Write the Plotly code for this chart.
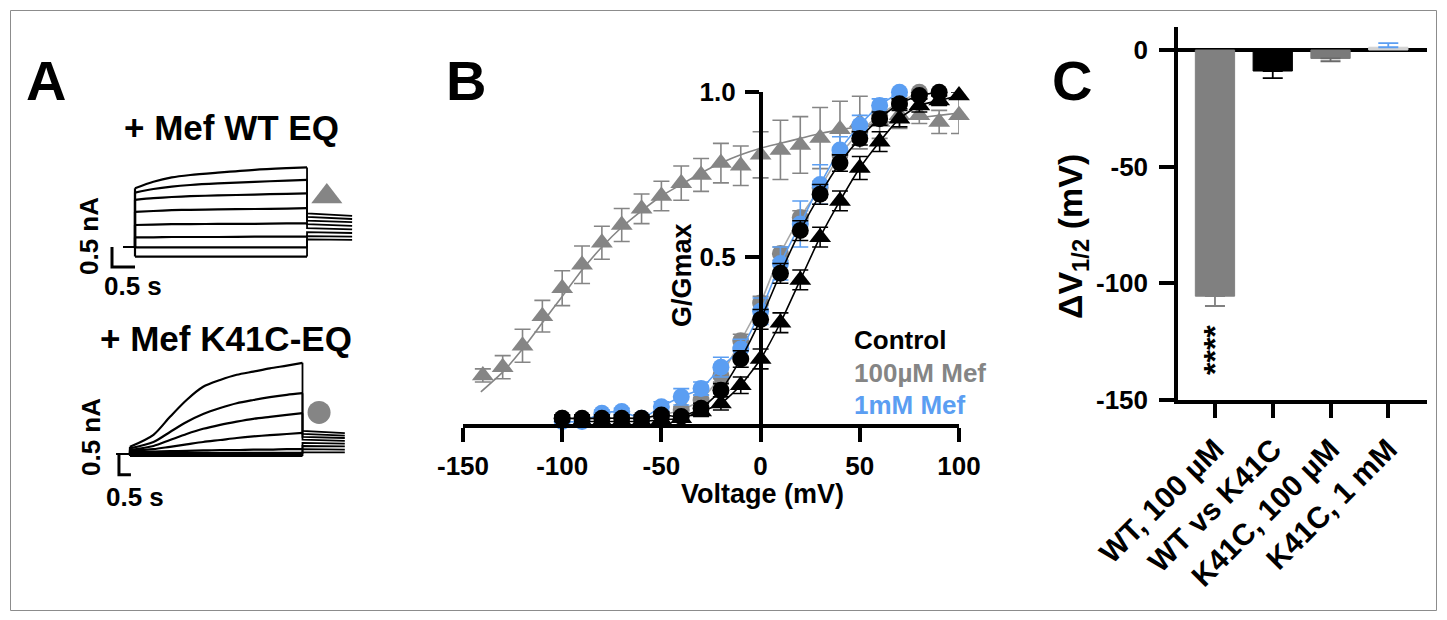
import plotly.graph_objects as go

W, H = 1447, 620
FONT = 'Arial, "Liberation Sans", Helvetica, sans-serif'
BLACK = '#000000'
GRAY = '#858585'
LGRAY = '#a8a8a8'
BLUE = '#5b9ef2'

# ---------------- Panel A data (currents, nA vs time, s) ----------------
wt_hold_t = [-0.26, 0.0]
wt_step_t = [0.0, 0.4, 0.8, 1.2, 1.8, 2.6, 3.3, 3.74]
wt_step_i = [
    [1.47, 1.63, 1.74, 1.80, 1.86, 1.93, 1.97, 1.99],
    [1.36, 1.45, 1.51, 1.55, 1.59, 1.63, 1.66, 1.68],
    [1.18, 1.22, 1.25, 1.27, 1.29, 1.31, 1.33, 1.34],
    [0.88, 0.90, 0.92, 0.93, 0.94, 0.95, 0.96, 0.97],
    [0.55, 0.56, 0.57, 0.57, 0.58, 0.58, 0.59, 0.59],
    [0.24, 0.24, 0.25, 0.25, 0.25, 0.26, 0.26, 0.26],
    [-0.01, -0.01, -0.01, -0.01, -0.01, -0.01, -0.01, -0.01],
    [-0.24, -0.24, -0.24, -0.24, -0.24, -0.24, -0.24, -0.24],
]
wt_tail_t = [3.74, 4.72]
wt_tail_start = [0.84, 0.75, 0.66, 0.57, 0.47, 0.37, 0.27, 0.19]
wt_tail_end = [0.78, 0.70, 0.62, 0.53, 0.44, 0.35, 0.26, 0.18]
wt_scale_t = [-0.5, -0.5, 0.0]
wt_scale_i = [0.0, -0.5, -0.5]

k_hold_t = [-0.29, 0.0]
k_step_t = [0.0, 0.51, 0.87, 1.23, 1.59, 1.96, 2.32, 2.68, 3.04, 3.41, 3.75]
k_step_i = [
    [0.18, 0.48, 0.93, 1.35, 1.68, 1.85, 1.98, 2.06, 2.14, 2.21, 2.28],
    [0.14, 0.30, 0.55, 0.80, 1.00, 1.15, 1.27, 1.35, 1.42, 1.48, 1.52],
    [0.10, 0.20, 0.35, 0.50, 0.63, 0.73, 0.81, 0.88, 0.93, 0.98, 1.02],
    [0.08, 0.12, 0.18, 0.24, 0.30, 0.35, 0.40, 0.44, 0.47, 0.50, 0.53],
    [0.05, 0.06, 0.07, 0.08, 0.09, 0.10, 0.10, 0.11, 0.11, 0.12, 0.12],
    [0.03, 0.03, 0.03, 0.03, 0.03, 0.03, 0.03, 0.03, 0.03, 0.03, 0.03],
    [0.00, 0.00, 0.00, 0.00, 0.00, 0.00, 0.00, 0.00, 0.00, 0.00, 0.00],
    [-0.05, -0.05, -0.05, -0.05, -0.05, -0.05, -0.05, -0.05, -0.05, -0.05, -0.05],
]
k_tail_t = [3.75, 4.67]
k_tail_start = [0.58, 0.50, 0.43, 0.36, 0.28, 0.20, 0.12, 0.04]
k_tail_end = [0.52, 0.46, 0.40, 0.33, 0.26, 0.19, 0.11, 0.04]
k_scale_t = [-0.24, -0.24, 0.02]
k_scale_i = [-0.02, -0.52, -0.52]

# ---------------- Panel B data (G/Gmax vs voltage, mV) ----------------
v_wt_mef = [-140, -130, -120, -110, -100, -90, -80, -70, -60, -50, -40, -30, -20,
            -10, 0, 10, 20, 30, 40, 50, 60, 70, 80, 90, 100]
g_wt_mef = [0.14, 0.165, 0.23, 0.32, 0.405, 0.476, 0.543, 0.597, 0.646, 0.685, 0.724,
            0.749, 0.785, 0.777, 0.81, 0.825, 0.84, 0.861, 0.888, 0.908, 0.91, 0.93,
            0.93, 0.91, 0.93]
e_wt_mef = [0.02, 0.035, 0.05, 0.048, 0.053, 0.057, 0.05, 0.05, 0.045, 0.045, 0.052,
            0.05, 0.06, 0.06, 0.07, 0.09, 0.086, 0.093, 0.085, 0.08, 0.05, 0.04,
            0.025, 0.035, 0.055]
v_wt_mef_fit = [-141, -130, -120, -110, -100, -90, -80, -70, -60, -50, -40, -30, -20,
                -10, 0, 10, 20, 30, 40, 50, 60, 70, 80, 90, 100]
g_wt_mef_fit = [0.09, 0.15, 0.22, 0.30, 0.38, 0.46, 0.53, 0.59, 0.64, 0.685, 0.72,
                0.755, 0.785, 0.81, 0.83, 0.845, 0.86, 0.875, 0.886, 0.897, 0.906,
                0.915, 0.923, 0.93, 0.937]

v_wt_ctl = [-90, -80, -70, -60, -50, -40, -30, -20, -10, 0, 10, 20, 30, 40, 50, 60,
            70, 80, 90, 100]
g_wt_ctl = [0.0, 0.0, 0.0, 0.0, 0.005, 0.01, 0.03, 0.055, 0.11, 0.19, 0.30, 0.43,
            0.56, 0.67, 0.77, 0.85, 0.92, 0.96, 0.975, 0.99]
e_wt_ctl = [0.01, 0.01, 0.01, 0.01, 0.01, 0.01, 0.015, 0.02, 0.025, 0.03, 0.03, 0.03,
            0.03, 0.03, 0.035, 0.03, 0.025, 0.02, 0.015, 0.01]

v_k_ctl = [-100, -90, -80, -70, -60, -50, -40, -30, -20, -10, 0, 10, 20, 30, 40, 50,
           60, 70, 80, 90]
g_k_ctl = [0.01, 0.01, 0.01, 0.01, 0.01, 0.02, 0.015, 0.04, 0.095, 0.19, 0.31, 0.45,
           0.58, 0.69, 0.785, 0.86, 0.92, 0.965, 0.99, 1.0]
e_k_ctl = [0.01, 0.01, 0.01, 0.01, 0.01, 0.01, 0.01, 0.015, 0.02, 0.025, 0.03, 0.03,
           0.03, 0.03, 0.025, 0.02, 0.02, 0.015, 0.01, 0.01]

v_k_100 = [-100, -90, -80, -70, -60, -50, -40, -30, -20, -10, 0, 10, 20, 30, 40, 50,
           60, 70, 80]
g_k_100 = [0.01, 0.005, 0.01, 0.01, 0.01, 0.02, 0.035, 0.065, 0.14, 0.245, 0.36, 0.51,
           0.62, 0.71, 0.81, 0.88, 0.93, 0.97, 1.0]
e_k_100 = [0.01, 0.01, 0.01, 0.01, 0.01, 0.01, 0.01, 0.015, 0.02, 0.02, 0.02, 0.02,
           0.02, 0.02, 0.02, 0.02, 0.015, 0.01, 0.01]

v_k_1mm = [-100, -90, -80, -70, -60, -50, -40, -30, -20, -10, 0, 10, 20, 30, 40, 50,
           60, 70]
g_k_1mm = [0.0, 0.0, 0.025, 0.03, 0.01, 0.045, 0.075, 0.10, 0.165, 0.22, 0.335, 0.48,
           0.60, 0.72, 0.825, 0.90, 0.96, 1.0]
e_k_1mm = [0.01, 0.01, 0.01, 0.01, 0.01, 0.015, 0.025, 0.02, 0.03, 0.03, 0.04, 0.05,
           0.07, 0.06, 0.04, 0.03, 0.02, 0.01]

b_xticks = [-150, -100, -50, 0, 50, 100]
b_xticktext = ['-150', '-100', '-50', '0', '50', '100']
b_yticks = [0.5, 1.0]
b_yticktext = ['0.5', '1.0']

# ---------------- Panel C data (delta V1/2, mV) ----------------
c_categories = ['WT, 100 µM', 'WT vs K41C', 'K41C, 100 µM', 'K41C, 1 mM']
c_values = [-105.5, -9.0, -3.6, 1.2]
c_errors = [4.2, 3.0, 1.2, 1.8]
c_bar_colors = ['#808080', '#000000', '#7a7a7a', '#d2d2d2']
c_err_colors = ['#808080', '#000000', '#6a6a6a', BLUE]
c_yticks = [0, -50, -100, -150]
c_yticktext = ['0', '-50', '-100', '-150']


def dx(x0, x1):
    return [x0 / W, x1 / W]


def dy(y_top, y_bot):
    return [1 - y_bot / H, 1 - y_top / H]


fig = go.Figure()

# ---- Panel A traces ----
def add_traces(hold_t, step_t, step_i, tail_t, tail_s, tail_e, xa, ya):
    for k, vals in enumerate(step_i):
        fig.add_trace(go.Scatter(x=[hold_t[0], hold_t[1], step_t[0]], y=[0, 0, vals[0]],
                                 mode='lines', line=dict(color=BLACK, width=2.2),
                                 xaxis=xa, yaxis=ya, hoverinfo='skip'))
        fig.add_trace(go.Scatter(x=step_t, y=vals, mode='lines',
                                 line=dict(color=BLACK, width=2.2, shape='spline', smoothing=0.8),
                                 xaxis=xa, yaxis=ya, hoverinfo='skip'))
        fig.add_trace(go.Scatter(x=[step_t[-1], tail_t[0], tail_t[1]],
                                 y=[vals[-1], tail_s[k], tail_e[k]],
                                 mode='lines', line=dict(color=BLACK, width=1.8),
                                 xaxis=xa, yaxis=ya, hoverinfo='skip'))


add_traces(wt_hold_t, wt_step_t, wt_step_i, wt_tail_t, wt_tail_start, wt_tail_end, 'x', 'y')
add_traces(k_hold_t, k_step_t, k_step_i, k_tail_t, k_tail_start, k_tail_end, 'x2', 'y2')
fig.add_trace(go.Scatter(x=wt_scale_t, y=wt_scale_i, mode='lines',
                         line=dict(color=BLACK, width=3), xaxis='x', yaxis='y'))
fig.add_trace(go.Scatter(x=k_scale_t, y=k_scale_i, mode='lines',
                         line=dict(color=BLACK, width=3), xaxis='x2', yaxis='y2'))
fig.add_trace(go.Scatter(x=[4.17], y=[1.26], mode='markers',
                         marker=dict(symbol='triangle-up', size=27, color=GRAY),
                         xaxis='x', yaxis='y', cliponaxis=False))
fig.add_trace(go.Scatter(x=[4.11], y=[1.04], mode='markers',
                         marker=dict(symbol='circle', size=23, color=GRAY),
                         xaxis='x2', yaxis='y2', cliponaxis=False))

# ---- Panel B ----
def add_series(v, g, e, color, symbol, linecolor, size, fitv=None, fitg=None):
    fig.add_trace(go.Scatter(x=fitv if fitv else v, y=fitg if fitg else g, mode='lines',
                             line=dict(color=linecolor, width=1.6, shape='spline', smoothing=0.6),
                             xaxis='x3', yaxis='y3', cliponaxis=False, hoverinfo='skip'))
    fig.add_trace(go.Scatter(x=v, y=g, mode='markers',
                             marker=dict(symbol=symbol, size=size, color=color, line=dict(width=0)),
                             error_y=dict(type='data', array=e, color=color, thickness=1.6, width=8),
                             xaxis='x3', yaxis='y3', cliponaxis=False))


add_series(v_wt_mef, g_wt_mef, e_wt_mef, GRAY, 'triangle-up', GRAY, 19, v_wt_mef_fit, g_wt_mef_fit)
add_series(v_k_100, g_k_100, e_k_100, GRAY, 'circle', LGRAY, 17)
add_series(v_k_1mm, g_k_1mm, e_k_1mm, BLUE, 'circle', BLUE, 17)
add_series(v_wt_ctl, g_wt_ctl, e_wt_ctl, BLACK, 'triangle-up', BLACK, 19)
add_series(v_k_ctl, g_k_ctl, e_k_ctl, BLACK, 'circle', BLACK, 17)

# ---- Panel C ----
cx = list(range(len(c_categories)))
fig.add_trace(go.Bar(x=cx, y=c_values, width=0.68,
                     marker=dict(color=c_bar_colors, line=dict(color=c_bar_colors, width=1)),
                     xaxis='x4', yaxis='y4'))
for i in cx:
    up = c_errors[i] if c_values[i] > 0 else 0
    dn = c_errors[i] if c_values[i] < 0 else 0
    fig.add_trace(go.Scatter(x=[cx[i]], y=[c_values[i]], mode='markers',
                             marker=dict(size=1, color='rgba(0,0,0,0)'),
                             error_y=dict(type='data', symmetric=False, array=[up], arrayminus=[dn],
                                          color=c_err_colors[i], thickness=1.8, width=10),
                             xaxis='x4', yaxis='y4', cliponaxis=False))

axis_common = dict(showgrid=False, zeroline=False, automargin=False)
hidden = dict(visible=False, showgrid=False, zeroline=False, automargin=False)
tickfont = dict(family=FONT, size=26, color=BLACK, weight='bold')

layout = dict(
    width=W, height=H, margin=dict(l=0, r=0, t=0, b=0),
    paper_bgcolor='white', plot_bgcolor='white', showlegend=False,
    xaxis=dict(domain=dx(107.4, 365), range=[-0.6, 5.0], **hidden),
    yaxis=dict(domain=dy(155, 275), range=[-0.7, 2.3], **hidden),
    xaxis2=dict(domain=dx(102.4, 360), range=[-0.6, 5.0], anchor='y2', **hidden),
    yaxis2=dict(domain=dy(354, 482), range=[-0.7, 2.5], anchor='x2', **hidden),
    xaxis3=dict(domain=dx(463, 959), range=[-150, 100], anchor='y3',
                tickvals=b_xticks, ticktext=b_xticktext, ticks='outside', ticklen=14,
                tickwidth=3.5, tickcolor=BLACK, showline=True, linecolor=BLACK, linewidth=3.5,
                tickfont=tickfont, ticklabelstandoff=2, **axis_common),
    yaxis3=dict(domain=dy(92.3, 424), range=[-0.0076, 1.0], anchor='free', position=760.6 / W,
                tickvals=b_yticks, ticktext=b_yticktext, ticks='outside', ticklen=14,
                tickwidth=3.5, tickcolor=BLACK, showline=True, linecolor=BLACK, linewidth=3.5,
                tickfont=tickfont, ticklabelstandoff=4, **axis_common),
    xaxis4=dict(domain=dx(1178, 1427), range=[-0.64, 3.67], anchor='y4',
                tickvals=cx, ticktext=c_categories, tickangle=-45, ticks='outside', ticklen=14,
                tickwidth=3.5, tickcolor=BLACK, showline=True, linecolor=BLACK, linewidth=3.5,
                tickfont=dict(family=FONT, size=30, color=BLACK, weight='bold'),
                ticklabelstandoff=2, **axis_common),
    yaxis4=dict(domain=dy(26.7, 400), range=[-150, 10], anchor='x4',
                tickvals=c_yticks, ticktext=c_yticktext, ticks='outside', ticklen=15,
                tickwidth=3.5, tickcolor=BLACK, showline=True, linecolor=BLACK, linewidth=3.5,
                tickfont=tickfont, ticklabelstandoff=6, showgrid=False, automargin=False,
                zeroline=True, zerolinecolor=BLACK, zerolinewidth=3.5),
)
fig.update_layout(**layout)


def ann(text, x, y, size, color=BLACK, angle=0, xanchor='center', yanchor='middle'):
    fig.add_annotation(text=text, x=x / W, y=1 - y / H, xref='paper', yref='paper',
                       showarrow=False, textangle=angle, xanchor=xanchor, yanchor=yanchor,
                       font=dict(family=FONT, size=size, color=color, weight='bold'))


ann('A', 46, 80, 56)
ann('B', 466, 80, 56)
ann('C', 1072, 80, 56)
ann('+ Mef WT EQ', 231, 128, 35)
ann('+ Mef K41C-EQ', 226, 338, 35)
ann('0.5 nA', 89, 236, 26, angle=-90)
ann('0.5 s', 133, 286, 26)
ann('0.5 nA', 91, 437, 26, angle=-90)
ann('0.5 s', 135, 497, 26)
ann('G/Gmax', 682, 275, 27, angle=-90)
ann('Voltage (mV)', 762, 494, 27)
ann('Control', 852, 340, 26, xanchor='left')
ann('100µM Mef', 852, 373, 26, color=GRAY, xanchor='left')
ann('1mM Mef', 852, 405, 26, color=BLUE, xanchor='left')
ann('ΔV<sub>1/2</sub> (mV)', 1072, 237, 34, angle=-90)
ann('****', 1215, 350, 32, angle=-90)

fig.add_shape(type='rect', xref='paper', yref='paper', x0=10.5 / W, x1=1436.5 / W,
              y0=1 - 610.5 / H, y1=1 - 10.5 / H, line=dict(color='#8c8c8c', width=1))

fig.write_html('out.html', config={'displayModeBar': False},
               post_script="document.body.style.margin='0px';")
